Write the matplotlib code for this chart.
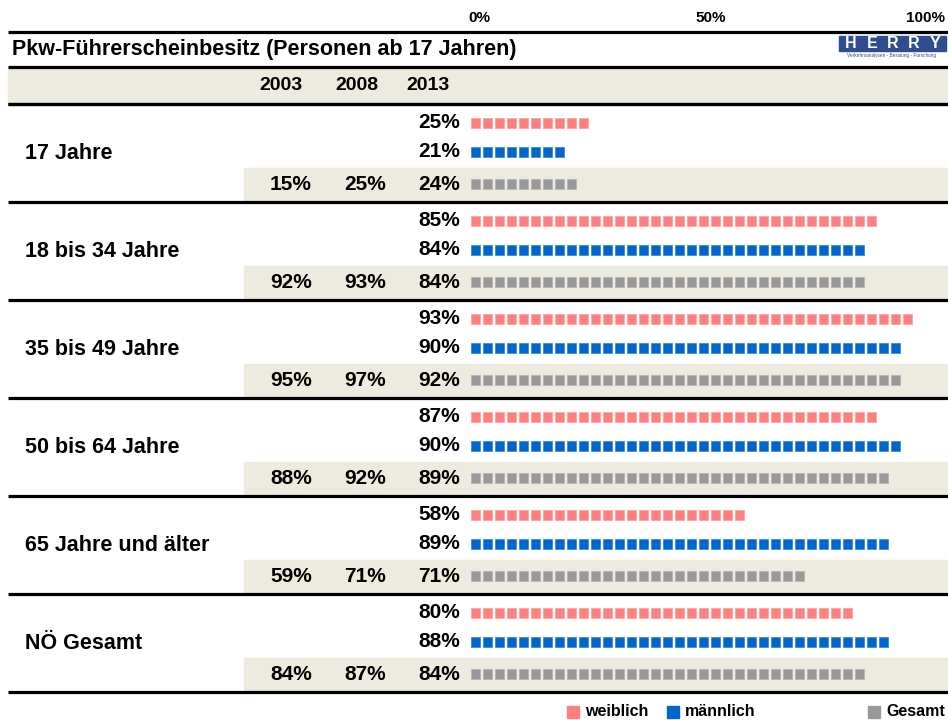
import numpy as np
import matplotlib
matplotlib.use("Agg")
import matplotlib.pyplot as plt
from matplotlib.patches import Rectangle

# ---------------- data ----------------
groups = ["17 Jahre", "18 bis 34 Jahre", "35 bis 49 Jahre",
          "50 bis 64 Jahre", "65 Jahre und älter", "NÖ Gesamt"]
weiblich = [25, 85, 93, 87, 58, 80]
maennlich = [21, 84, 90, 90, 89, 88]
gesamt_2003 = [15, 92, 95, 88, 59, 84]
gesamt_2008 = [25, 93, 97, 92, 71, 87]
gesamt_2013 = [24, 84, 92, 89, 71, 84]
years = ["2003", "2008", "2013"]
axis_ticks = [0, 50, 100]
legend_labels = ["weiblich", "männlich", "Gesamt"]
title = "Pkw-Führerscheinbesitz (Personen ab 17 Jahren)"
logo_letters = list("HERRY")

# ---------------- style ----------------
C_W = "#FF7F7F"
C_M = "#0066CC"
C_G = "#999999"
BEIGE = "#EDEADF"
LOGO = "#2F4E8F"
plt.rcParams["font.family"] = ["Liberation Sans", "DejaVu Sans"]

W, H = 948, 720
fig = plt.figure(figsize=(W / 100, H / 100), dpi=100)
lay = fig.add_axes([0, 0, 1, 1])
lay.set_xlim(0, W)
lay.set_ylim(H, 0)
lay.axis("off")

X0 = 471          # pixel of 0 %
PX_PER_PCT = 4.8  # 12 px per 2.5 % square
bar_ax = fig.add_axes([X0 / W, 0, (W - X0) / W, 1], zorder=3)
bar_ax.set_xlim(0, (W - X0) / PX_PER_PCT)
bar_ax.set_ylim(H, 0)
bar_ax.axis("off")
bar_ax.patch.set_visible(False)

# thick rules
LINE_X0 = 8
header_lines = [32, 67, 103.5]
GROUP_TOP = 103.5
GROUP_H = 98
group_tops = [GROUP_TOP + GROUP_H * g for g in range(len(groups) + 1)]

# header band
lay.add_patch(Rectangle((LINE_X0, 67), W - LINE_X0, 36.5, color=BEIGE, zorder=0))

for y in header_lines + group_tops:
    lay.plot([LINE_X0, W], [y, y], color="black", lw=2.3, solid_capstyle="butt", zorder=2)

# title
lay.text(12, 50, title, fontsize=15.5, fontweight="bold", va="center", ha="left")

# logo
lay.add_patch(Rectangle((839, 36), 107, 15, color=LOGO, zorder=1))
for i, ch in enumerate(logo_letters):
    lay.text(851 + i * 21, 44, ch, fontsize=11.5, fontweight="bold", color="white",
             ha="center", va="center", zorder=2)
lay.text(892, 56, "Verkehrsanalysen - Beratung - Forschung", fontsize=3.4,
         color=LOGO, ha="center", va="center")

# top axis labels
for t in axis_ticks:
    if t == 0:
        bar_ax.text(-0.5, 18, f"{t}%", fontsize=11, fontweight="bold", ha="left", va="center")
    elif t == 100:
        bar_ax.text((945 - X0) / PX_PER_PCT, 18, f"{t}%", fontsize=11,
                    fontweight="bold", ha="right", va="center")
    else:
        bar_ax.text(t, 18, f"{t}%", fontsize=11, fontweight="bold", ha="center", va="center")

# column headers
for x, yr in zip([281, 357, 428], years):
    lay.text(x, 86, yr, fontsize=14, fontweight="bold", ha="center", va="center")

ROW_OFF = [19.5, 48, 80.5]
SQ_W = 9.4 / PX_PER_PCT
SQ_H = 10
STEP = 2.5


def squares(ax, yc, value, color, edge):
    n = int(value // STEP)
    xs = np.arange(n) * STEP
    ax.bar(xs, SQ_H, width=SQ_W, bottom=yc - SQ_H / 2, align="edge",
           color=color, edgecolor=edge, linewidth=0.6)


VAL_FS = 15
LAB_FS = 15.5
for g, name in enumerate(groups):
    top = group_tops[g]
    # gesamt row band
    lay.add_patch(Rectangle((244, top + 64), W - 244, 33.5, color=BEIGE, zorder=0))
    lay.text(25, top + 50, name, fontsize=LAB_FS, fontweight="bold", ha="left", va="center")

    yw, ym, yg = [top + o for o in ROW_OFF]
    lay.text(460, yw, f"{weiblich[g]}%", fontsize=VAL_FS, fontweight="bold", ha="right", va="center")
    lay.text(460, ym, f"{maennlich[g]}%", fontsize=VAL_FS, fontweight="bold", ha="right", va="center")
    lay.text(312, yg, f"{gesamt_2003[g]}%", fontsize=VAL_FS, fontweight="bold", ha="right", va="center")
    lay.text(386, yg, f"{gesamt_2008[g]}%", fontsize=VAL_FS, fontweight="bold", ha="right", va="center")
    lay.text(460, yg, f"{gesamt_2013[g]}%", fontsize=VAL_FS, fontweight="bold", ha="right", va="center")

    squares(bar_ax, yw, weiblich[g], C_W, "#FFA3A3")
    squares(bar_ax, ym, maennlich[g], C_M, "#3D8BDB")
    squares(bar_ax, yg, gesamt_2013[g], C_G, "#B5B5B5")

# legend
LEG_Y = 712
for x, lab, col in zip([567, 667, 868], legend_labels, [C_W, C_M, C_G]):
    lay.add_patch(Rectangle((x, LEG_Y - 6), 12, 12, color=col))
    lay.text(x + 18, LEG_Y, lab, fontsize=11.5, fontweight="bold", ha="left", va="center")

fig.savefig("out.png", dpi=100)
